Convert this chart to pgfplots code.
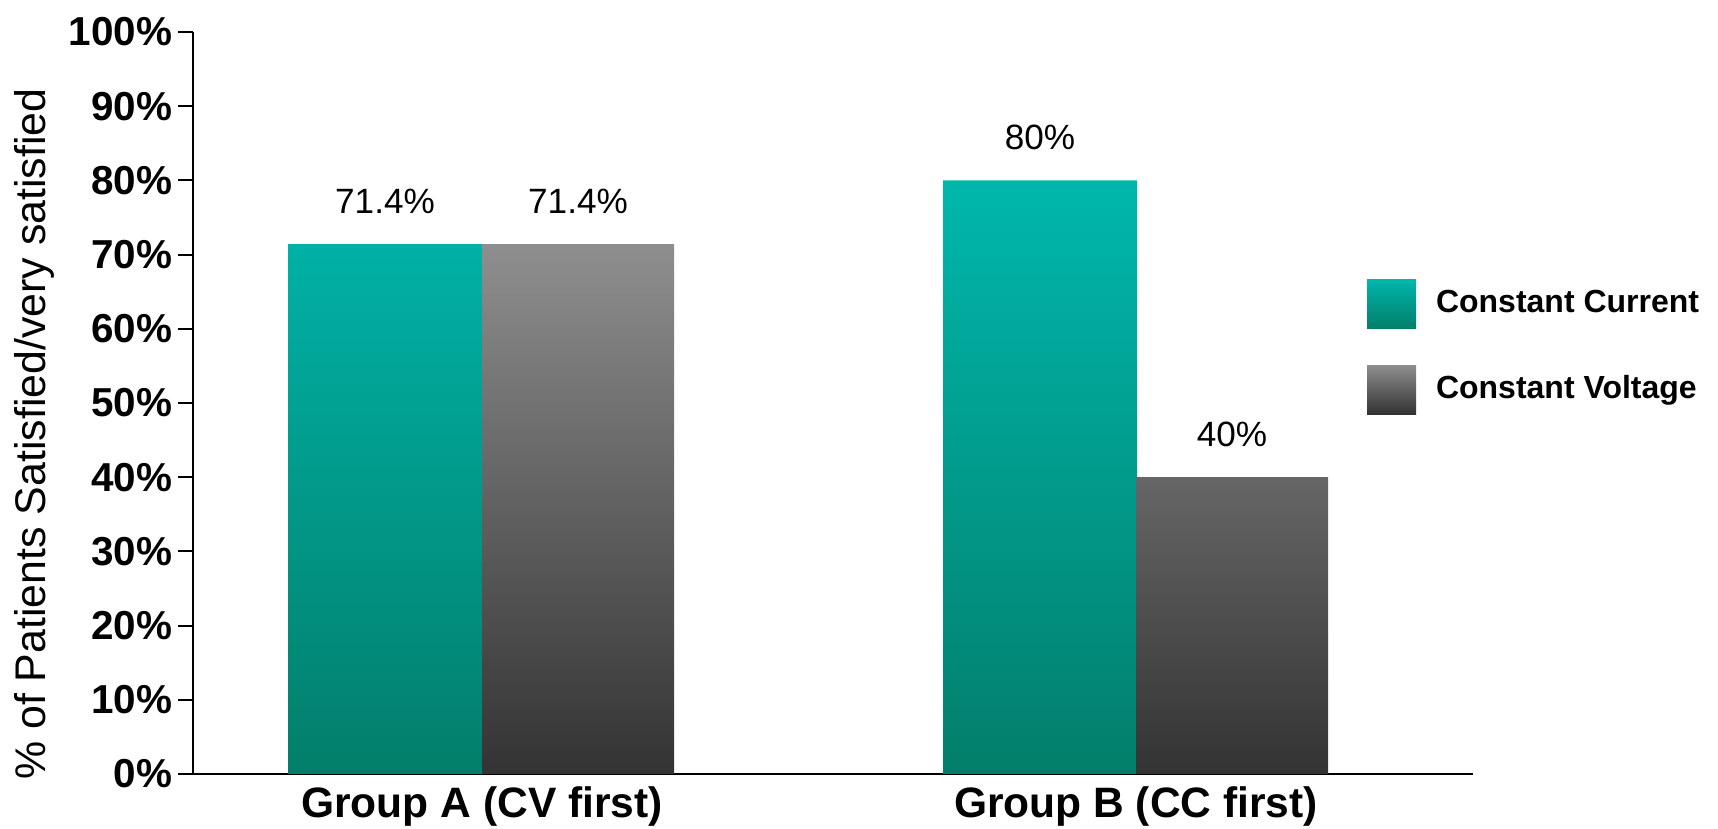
\documentclass[border=0pt]{standalone}
\usepackage{pgfplots}
\pgfplotsset{compat=1.18}
\usepackage{fontspec}
\setmainfont{Liberation Sans}
\definecolor{ccTop}{HTML}{00B7AC}
\definecolor{ccBot}{HTML}{037E6B}
\definecolor{cvTop}{HTML}{8E8E8E}
\definecolor{cvBot}{HTML}{333333}
\begin{document}
\begin{tikzpicture}
\begin{axis}[
  scale only axis, width=128mm, height=74.2mm,
  xmin=0, xmax=1280, ymin=0, ymax=100,
  axis x line*=bottom, axis y line*=left,
  axis line style={line width=0.6pt, black},
  xtick={289,943},
  xticklabels={Group A (CV first), Group B (CC first)},
  x tick style={draw=none},
  xticklabel style={font=\fontsize{12.1}{14}\selectfont\bfseries, inner sep=0pt, anchor=north, yshift=0.3mm},
  ytick={0,10,...,100},
  yticklabel={\pgfmathprintnumber{\tick}\%},
  /pgf/number format/assume math mode=true,
  yticklabel style={font=\fontsize{11.5}{13}\selectfont\bfseries, inner sep=0pt, anchor=east, xshift=-0.5mm},
  y tick style={line width=0.6pt, black},
  tick align=outside, major tick length=1.5mm,
  ylabel={\% of Patients Satisfied/very satisfied},
  ylabel style={font=\fontsize{12.2}{14}\selectfont, at={(rel axis cs:-0.1242,0.458)}, anchor=center},
  nodes near coords,
  point meta=explicit symbolic,
  every node near coord/.append style={font=\fontsize{10}{12}\selectfont, inner sep=0pt, anchor=south, yshift=3mm},
  legend style={at={(rel axis cs:0.9172,0.6671)}, anchor=north west, draw=none, fill=none,
    inner sep=0pt, outer sep=0pt, row sep=3.7mm,
    font=\fontsize{9.1}{11}\selectfont\bfseries,
    /tikz/every odd column/.style={column sep=1.3mm}},
  legend cell align=left,
]
\addplot[ybar, bar width=194, bar shift=0pt, draw=none, top color=ccTop, bottom color=ccBot,
  legend image code/.code={\fill[top color=ccTop, bottom color=ccBot] (0mm,-2.45mm) rectangle (4.9mm,2.45mm);}]
  coordinates {(192,71.4) [71.4\%] (847,80) [80\%]};
\addlegendentry{Constant Current}
\addplot[ybar, bar width=192, bar shift=0pt, draw=none, top color=cvTop, bottom color=cvBot,
  legend image code/.code={\fill[top color=cvTop, bottom color=cvBot] (0mm,-2.45mm) rectangle (4.9mm,2.45mm);}]
  coordinates {(385,71.4) [71.4\%] (1039,40) [40\%]};
\addlegendentry{Constant Voltage}
\coordinate (O) at (rel axis cs:0,0);
\end{axis}
\pgfresetboundingbox
\path[use as bounding box] ([shift={(-19.3mm,-5.5mm)}]O) rectangle ++(171.8mm,82.9mm);
\end{tikzpicture}
\end{document}
